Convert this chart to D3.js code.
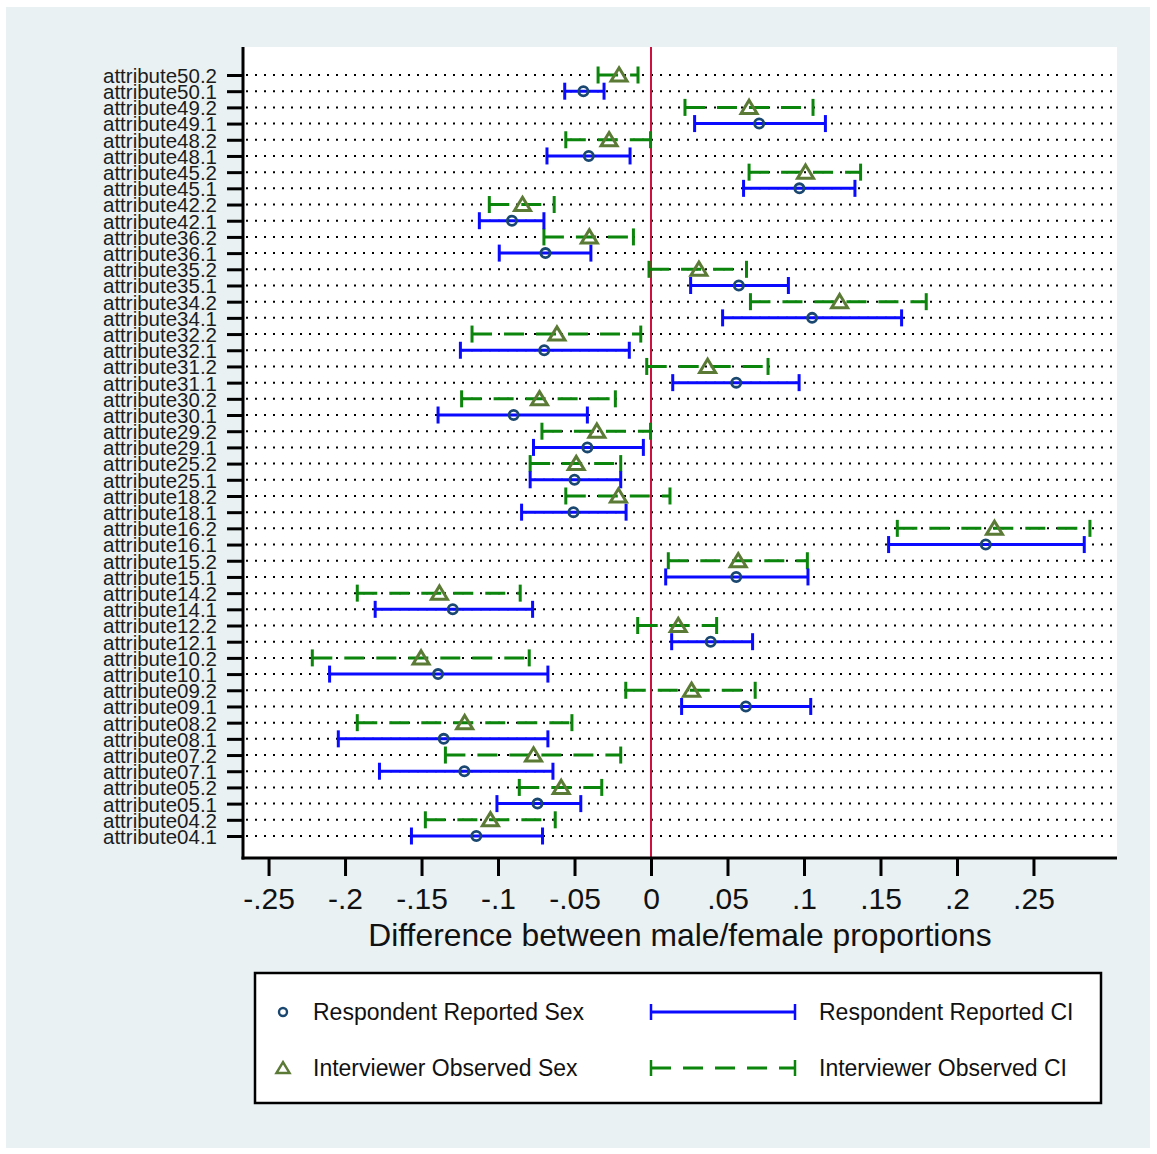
<!DOCTYPE html>
<html>
<head>
<meta charset="utf-8">
<script src="https://cdn.jsdelivr.net/npm/d3@7"></script>
<style>
  html, body { margin: 0; padding: 0; background: #ffffff; }
  svg { display: block; font-family: "Liberation Sans", Arial, sans-serif; }
</style>
</head>
<body>
<svg id="chart" width="1157" height="1154"></svg>
<script>
// Row labels, top to bottom (".2" = interviewer observed, ".1" = respondent reported)
const categories = [
  "attribute50.2","attribute50.1","attribute49.2","attribute49.1","attribute48.2","attribute48.1",
  "attribute45.2","attribute45.1","attribute42.2","attribute42.1","attribute36.2","attribute36.1",
  "attribute35.2","attribute35.1","attribute34.2","attribute34.1","attribute32.2","attribute32.1",
  "attribute31.2","attribute31.1","attribute30.2","attribute30.1","attribute29.2","attribute29.1",
  "attribute25.2","attribute25.1","attribute18.2","attribute18.1","attribute16.2","attribute16.1",
  "attribute15.2","attribute15.1","attribute14.2","attribute14.1","attribute12.2","attribute12.1",
  "attribute10.2","attribute10.1","attribute09.2","attribute09.1","attribute08.2","attribute08.1",
  "attribute07.2","attribute07.1","attribute05.2","attribute05.1","attribute04.2","attribute04.1"
];

// Respondent reported sex: estimate and CI, rows attributeXX.1 (50 ... 04)
const respondentRows = ["attribute50.1","attribute49.1","attribute48.1","attribute45.1","attribute42.1","attribute36.1",
  "attribute35.1","attribute34.1","attribute32.1","attribute31.1","attribute30.1","attribute29.1",
  "attribute25.1","attribute18.1","attribute16.1","attribute15.1","attribute14.1","attribute12.1",
  "attribute10.1","attribute09.1","attribute08.1","attribute07.1","attribute05.1","attribute04.1"];
const respondentEst = [-0.0442, 0.0707, -0.0407, 0.0970, -0.0909, -0.0690,
  0.0574, 0.1053, -0.0698, 0.0557, -0.0898, -0.0416,
  -0.0500, -0.0507, 0.2188, 0.0557, -0.1296, 0.0390,
  -0.1392, 0.0620, -0.1355, -0.1220, -0.0742, -0.1142];
const respondentLo = [-0.0564, 0.0285, -0.0680, 0.0605, -0.1122, -0.0992,
  0.0259, 0.0468, -0.1246, 0.0142, -0.1392, -0.0768,
  -0.0790, -0.0846, 0.1553, 0.0096, -0.1803, 0.0135,
  -0.2101, 0.0200, -0.2044, -0.1775, -0.1007, -0.1566];
const respondentHi = [-0.0307, 0.1140, -0.0137, 0.1333, -0.0700, -0.0393,
  0.0898, 0.1638, -0.0142, 0.0968, -0.0416, -0.0050,
  -0.0198, -0.0163, 0.2832, 0.1026, -0.0774, 0.0664,
  -0.0674, 0.1044, -0.0674, -0.0641, -0.0459, -0.0709];

// Interviewer observed sex: estimate and CI, rows attributeXX.2
const interviewerRows = ["attribute50.2","attribute49.2","attribute48.2","attribute45.2","attribute42.2","attribute36.2",
  "attribute35.2","attribute34.2","attribute32.2","attribute31.2","attribute30.2","attribute29.2",
  "attribute25.2","attribute18.2","attribute16.2","attribute15.2","attribute14.2","attribute12.2",
  "attribute10.2","attribute09.2","attribute08.2","attribute07.2","attribute05.2","attribute04.2"];
const interviewerEst = [-0.0209, 0.0641, -0.0274, 0.1010, -0.0840, -0.0403,
  0.0313, 0.1233, -0.0615, 0.0370, -0.0729, -0.0354,
  -0.0489, -0.0213, 0.2245, 0.0570, -0.1383, 0.0178,
  -0.1503, 0.0265, -0.1218, -0.0768, -0.0587, -0.1050];
const interviewerLo = [-0.0346, 0.0222, -0.0557, 0.0641, -0.1057, -0.0700,
  -0.0013, 0.0650, -0.1170, -0.0028, -0.1238, -0.0713,
  -0.0790, -0.0557, 0.1610, 0.0113, -0.1920, -0.0087,
  -0.2214, -0.0165, -0.1920, -0.1344, -0.0861, -0.1475];
const interviewerHi = [-0.0085, 0.1059, -0.0003, 0.1370, -0.0633, -0.0115,
  0.0624, 0.1799, -0.0067, 0.0765, -0.0233, -0.0003,
  -0.0198, 0.0124, 0.2869, 0.1022, -0.0855, 0.0429,
  -0.0796, 0.0681, -0.0517, -0.0198, -0.0322, -0.0626];

// x-axis ticks and their printed labels
const xTickValues = [-0.25, -0.2, -0.15, -0.1, -0.05, 0, 0.05, 0.1, 0.15, 0.2, 0.25];
const xTickLabels = ["-.25", "-.2", "-.15", "-.1", "-.05", "0", ".05", ".1", ".15", ".2", ".25"];

const xTitle = "Difference between male/female proportions";
const legendLabels = ["Respondent Reported Sex", "Respondent Reported CI",
                      "Interviewer Observed Sex", "Interviewer Observed CI"];

const BLUE = "#0a0aff", GREEN = "#0b850b", NAVY = "#1a476f", OLIVE = "#5b7a35", RED = "#cc1040";

const svg = d3.select("#chart");

// graph region background
svg.append("rect").attr("x", 6).attr("y", 7).attr("width", 1144).attr("height", 1141)
  .attr("fill", "#eaf1f3");

const plot = { left: 243, right: 1117, top: 47, bottom: 858 };
svg.append("rect").attr("x", plot.left).attr("y", plot.top)
  .attr("width", plot.right - plot.left).attr("height", plot.bottom - plot.top)
  .attr("fill", "#ffffff");

const x = d3.scaleLinear().domain([-0.2667, 0.3046]).range([plot.left, plot.right]);
const y = d3.scalePoint().domain(categories).range([75, 836]);

// dotted row guides
svg.append("g").selectAll("line").data(categories).join("line")
  .attr("x1", plot.left + 3).attr("x2", plot.right)
  .attr("y1", d => y(d)).attr("y2", d => y(d))
  .attr("stroke", "#000").attr("stroke-width", 2)
  .attr("stroke-dasharray", "2,7");

// zero reference line
svg.append("line")
  .attr("x1", x(0)).attr("x2", x(0)).attr("y1", plot.top).attr("y2", plot.bottom)
  .attr("stroke", RED).attr("stroke-width", 2);

// confidence intervals
function drawCI(rows, lo, hi, color, dash) {
  const g = svg.append("g");
  const data = rows.map((r, i) => ({ r, lo: lo[i], hi: hi[i] }));
  g.selectAll("line.span").data(data).join("line").attr("class", "span")
    .attr("x1", d => x(d.lo)).attr("x2", d => x(d.hi))
    .attr("y1", d => y(d.r)).attr("y2", d => y(d.r))
    .attr("stroke", color).attr("stroke-width", 3)
    .attr("stroke-dasharray", dash);
  ["lo", "hi"].forEach(k => {
    g.selectAll("line.cap" + k).data(data).join("line").attr("class", "cap" + k)
      .attr("x1", d => x(d[k])).attr("x2", d => x(d[k]))
      .attr("y1", d => y(d.r) - 8.5).attr("y2", d => y(d.r) + 8.5)
      .attr("stroke", color).attr("stroke-width", 3);
  });
}
drawCI(interviewerRows, interviewerLo, interviewerHi, GREEN, "20,12");
drawCI(respondentRows, respondentLo, respondentHi, BLUE, null);

// point estimates
const triangle = (cx, cy, s) =>
  `M${cx},${cy - s * 0.9}L${cx + s},${cy + s * 0.75}L${cx - s},${cy + s * 0.75}Z`;

svg.append("g").selectAll("circle").data(respondentRows).join("circle")
  .attr("cx", (r, i) => x(respondentEst[i])).attr("cy", r => y(r))
  .attr("r", 4.6).attr("fill", "none").attr("stroke", NAVY).attr("stroke-width", 2.8);

svg.append("g").selectAll("path").data(interviewerRows).join("path")
  .attr("d", (r, i) => triangle(x(interviewerEst[i]), y(r), 8))
  .attr("fill", "none").attr("stroke", OLIVE).attr("stroke-width", 3)
  .attr("stroke-linejoin", "miter");

// y axis
const yAxis = svg.append("g").attr("transform", `translate(${plot.left},0)`)
  .call(d3.axisLeft(y).tickSize(16).tickPadding(10));
yAxis.select(".domain").remove();
yAxis.selectAll(".tick line").attr("stroke", "#000").attr("stroke-width", 3);
yAxis.selectAll(".tick text").attr("fill", "#1c1c1c")
  .style("font-size", "20.5px").attr("dy", "0.36em");
svg.append("line").attr("x1", plot.left).attr("x2", plot.left)
  .attr("y1", plot.top).attr("y2", plot.bottom + 1.5)
  .attr("stroke", "#000").attr("stroke-width", 3);

// x axis
const xAxis = svg.append("g").attr("transform", `translate(0,${plot.bottom})`)
  .call(d3.axisBottom(x).tickValues(xTickValues)
    .tickFormat((d, i) => xTickLabels[i]).tickSize(18).tickPadding(12));
xAxis.select(".domain").remove();
xAxis.selectAll(".tick line").attr("stroke", "#000").attr("stroke-width", 3);
xAxis.selectAll(".tick text").attr("fill", "#111").style("font-size", "30px");
svg.append("line").attr("x1", plot.left - 1.5).attr("x2", plot.right)
  .attr("y1", plot.bottom).attr("y2", plot.bottom)
  .attr("stroke", "#000").attr("stroke-width", 3);

svg.append("text").attr("x", (plot.left + plot.right) / 2).attr("y", 946)
  .attr("text-anchor", "middle").attr("fill", "#111").style("font-size", "31.8px")
  .text(xTitle);

// legend
const lg = svg.append("g");
lg.append("rect").attr("x", 255).attr("y", 973).attr("width", 846).attr("height", 130)
  .attr("fill", "#fff").attr("stroke", "#000").attr("stroke-width", 2.5);

const row1 = 1012, row2 = 1068;
lg.append("circle").attr("cx", 283).attr("cy", row1).attr("r", 4)
  .attr("fill", "none").attr("stroke", NAVY).attr("stroke-width", 2.4);
lg.append("path").attr("d", triangle(283, row2, 6.5))
  .attr("fill", "none").attr("stroke", OLIVE).attr("stroke-width", 2.5);

[[row1, BLUE, null], [row2, GREEN, "20,12"]].forEach(([ry, c, dash]) => {
  lg.append("line").attr("x1", 651).attr("x2", 795).attr("y1", ry).attr("y2", ry)
    .attr("stroke", c).attr("stroke-width", 3).attr("stroke-dasharray", dash);
  [651, 795].forEach(cx => lg.append("line").attr("x1", cx).attr("x2", cx)
    .attr("y1", ry - 8).attr("y2", ry + 8).attr("stroke", c).attr("stroke-width", 2.5));
});

const legendPos = [[313, row1], [819, row1], [313, row2], [819, row2]];
legendLabels.forEach((t, i) => {
  lg.append("text").attr("x", legendPos[i][0]).attr("y", legendPos[i][1])
    .attr("dy", "0.36em").attr("fill", "#111").style("font-size", "23px").text(t);
});
</script>
</body>
</html>
